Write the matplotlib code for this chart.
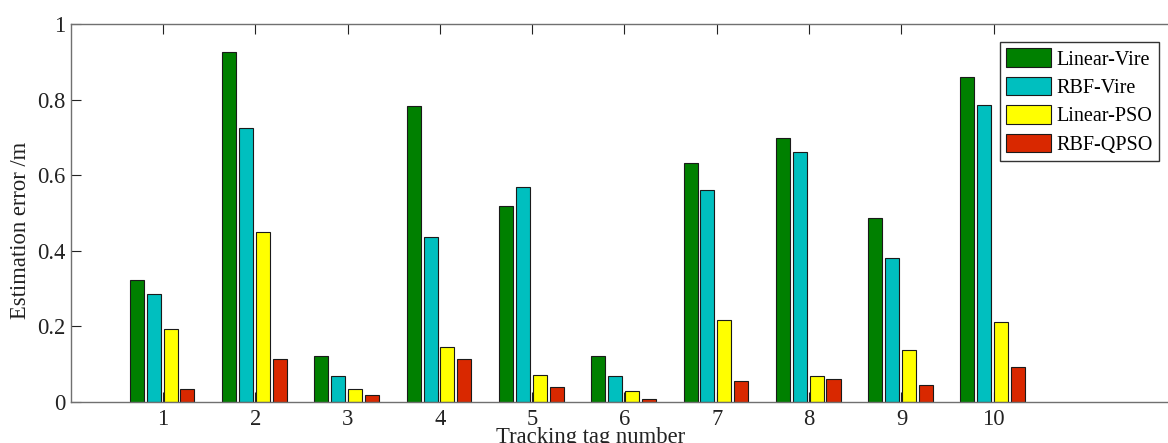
import matplotlib
matplotlib.use("Agg")
import matplotlib.pyplot as plt
import numpy as np

tags = [1, 2, 3, 4, 5, 6, 7, 8, 9, 10]
series_names = ["Linear-Vire", "RBF-Vire", "Linear-PSO", "RBF-QPSO"]
linear_vire = [0.322, 0.925, 0.123, 0.783, 0.519, 0.123, 0.633, 0.698, 0.486, 0.859]
rbf_vire    = [0.287, 0.726, 0.070, 0.437, 0.570, 0.070, 0.561, 0.661, 0.382, 0.787]
linear_pso  = [0.192, 0.451, 0.034, 0.146, 0.072, 0.028, 0.217, 0.070, 0.137, 0.211]
rbf_qpso    = [0.034, 0.114, 0.019, 0.114, 0.041, 0.007, 0.056, 0.061, 0.044, 0.092]
colors = ["#008000", "#00BFBF", "#FFFF00", "#D92800"]
yticks = [0, 0.2, 0.4, 0.6, 0.8, 1]
ytick_labels = ["0", "0.2", "0.4", "0.6", "0.8", "1"]

plt.rcParams['font.family'] = ['Liberation Serif', 'DejaVu Serif']

fig = plt.figure(figsize=(11.68, 4.43), dpi=100)
W, H = 1168, 443
ax = fig.add_axes([70.7 / W, (H - 402) / H, 1107.6 / W, 378 / H])

x = np.array(tags, dtype=float)
step = 0.183
width = 0.152
data = [linear_vire, rbf_vire, linear_pso, rbf_qpso]
for i, (vals, name, c) in enumerate(zip(data, series_names, colors)):
    ax.bar(x + (i - 1.5) * step - 0.01, vals, width=width, color=c,
           edgecolor="#1a1a1a", linewidth=0.8, label=name, zorder=2)

ax.set_xlim(0, 12)
ax.set_ylim(0, 1)
ax.set_xticks(tags)
ax.set_xticklabels([str(t) for t in tags])
ax.set_yticks(yticks)
ax.set_yticklabels(ytick_labels)
ax.tick_params(direction="in", length=7.2, width=0.8, colors="#222222",
               top=True, right=True, labelsize=16.3, pad=4)
ax.tick_params(axis="x", pad=5)
for s in ax.spines.values():
    s.set_color("#707070")
    s.set_linewidth(1.0)

ax.set_ylabel("Estimation error /m", fontsize=16.3, color="#222222")
ax.yaxis.set_label_coords(-0.036, 0.455)
ax.set_xlabel("Tracking tag number", fontsize=16.3, color="#222222")
ax.xaxis.set_label_coords(0.469, -0.066)

leg = ax.legend(loc="upper left", bbox_to_anchor=(0.8388, 0.9524), borderaxespad=0,
                fontsize=14.5, handlelength=2.24, handleheight=1.04, labelspacing=0.36,
                handletextpad=0.25, borderpad=0.32, fancybox=False, framealpha=1)
leg.get_frame().set_edgecolor("#333333")
leg.get_frame().set_linewidth(1.0)

fig.savefig("out.png", dpi=100)
